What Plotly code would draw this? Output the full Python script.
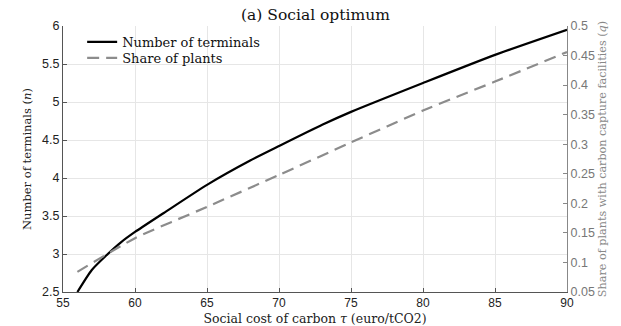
import plotly.graph_objects as go

tau_n = [56, 57, 58, 59, 60, 62, 65, 68, 70, 73, 75, 80, 85, 90]
n_terminals = [2.5, 2.79, 2.98, 3.15, 3.29, 3.54, 3.91, 4.23, 4.42, 4.70, 4.87, 5.25, 5.62, 5.95]

tau_q = [56, 60, 65, 70, 75, 80, 85, 90]
q_share = [0.084, 0.141, 0.194, 0.248, 0.303, 0.357, 0.406, 0.456]

left_ticks = [2.5, 3, 3.5, 4, 4.5, 5, 5.5, 6]
left_labels = ["2.5", "3", "3.5", "4", "4.5", "5", "5.5", "6"]
right_ticks = [0.05, 0.1, 0.15, 0.2, 0.25, 0.3, 0.35, 0.4, 0.45, 0.5]
right_labels = ["0.05", "0.1", "0.15", "0.2", "0.25", "0.3", "0.35", "0.4", "0.45", "0.5"]
x_ticks = [55, 60, 65, 70, 75, 80, 85, 90]

serif = "DejaVu Serif"
sans = "Liberation Sans"

fig = go.Figure()
fig.add_trace(go.Scatter(
    x=tau_n, y=n_terminals, mode="lines", name="Number of terminals", legend="legend",
    line=dict(color="black", width=2.2, shape="spline", smoothing=0.6), yaxis="y"))
fig.add_trace(go.Scatter(
    x=tau_q, y=q_share, mode="lines", name="Share of plants", legend="legend2",
    line=dict(color="#8c8c8c", width=2.2, dash="12px,7px", shape="spline", smoothing=0.6), yaxis="y2"))

legend_style = dict(xanchor="left", yanchor="middle", bgcolor="rgba(255,255,255,0)",
                    font=dict(family=serif, size=13, color="#111"), itemwidth=30)

fig.update_layout(
    width=621, height=326,
    margin=dict(l=63, r=54, t=26, b=34),
    plot_bgcolor="white", paper_bgcolor="white",
    title=dict(text="(a) Social optimum", x=0.508, xanchor="center", y=0.955, yanchor="middle",
               font=dict(family=serif, size=15.5, color="#111")),
    showlegend=True,
    legend=dict(x=0.038, y=0.940, **legend_style),
    legend2=dict(x=0.038, y=0.880, **legend_style),
    xaxis=dict(range=[55, 90], tickvals=x_ticks, ticktext=[str(v) for v in x_ticks],
               showgrid=True, gridcolor="#e6e6e6", gridwidth=1,
               showline=True, linecolor="#555", linewidth=1,
               ticks="inside", ticklen=4, tickcolor="#555",
               tickfont=dict(family=sans, size=12, color="#222"),
               title=dict(text="Social cost of carbon <i>τ</i> (euro/tCO2)",
                          font=dict(family=serif, size=12.5, color="#222")),
               zeroline=False, mirror=False, automargin=False),
    yaxis=dict(range=[2.5, 6], tickvals=left_ticks, ticktext=left_labels,
               showgrid=True, gridcolor="#e6e6e6", gridwidth=1,
               showline=True, linecolor="#555", linewidth=1,
               ticks="inside", ticklen=4, tickcolor="#555",
               tickfont=dict(family=sans, size=12.5, color="#222"),
               title=dict(text="Number of terminals (<i>n</i>)", standoff=8,
                          font=dict(family=serif, size=11.5, color="#222")),
               zeroline=False, automargin=False),
    yaxis2=dict(range=[0.05, 0.5], tickvals=right_ticks, ticktext=right_labels,
                overlaying="y", side="right", showgrid=False,
                showline=True, linecolor="#888", linewidth=1,
                ticks="inside", ticklen=4, tickcolor="#888",
                tickfont=dict(family=sans, size=12.5, color="#777"),
                title=dict(text="Share of plants with carbon capture facilities (<i>q</i>)", standoff=4,
                           font=dict(family=serif, size=11.2, color="#888")),
                zeroline=False, automargin=False),
)

fig.write_html("out.html")
